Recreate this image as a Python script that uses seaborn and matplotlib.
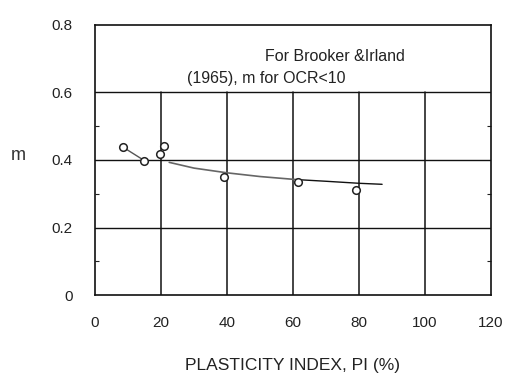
import numpy as np
import pandas as pd
import matplotlib
matplotlib.use("Agg")
import matplotlib.pyplot as plt
import seaborn as sns

# Points mesures (PI %, m)
pi_pts = [8.5, 15.0, 19.8, 21.0, 39.0, 61.5, 79.0]
m_pts = [0.438, 0.398, 0.418, 0.440, 0.349, 0.336, 0.311]

# Segment de gauche
seg_pi = [8.5, 15.0]
seg_m = [0.438, 0.398]

# Courbe de tendance (grise) puis droite (noire)
curve_pi = [22.5, 30, 40, 50, 61]
curve_m = [0.393, 0.376, 0.362, 0.351, 0.342]
line_pi = [61, 70, 80, 87]
line_m = [0.342, 0.337, 0.331, 0.328]

x_ticks = [0, 20, 40, 60, 80, 100, 120]
y_ticks = [0, 0.2, 0.4, 0.6, 0.8]
y_labels = ["0", "0.2", "0.4", "0.6", "0.8"]

sns.set_style("white")
plt.rcParams['font.family'] = ['Liberation Sans', 'DejaVu Sans']

fig = plt.figure(figsize=(5.06, 3.73), dpi=100)
ax = fig.add_axes([0.1877, 0.2091, 0.7827, 0.7239])

# Quadrillage: verticales seulement sous 0.6
for x in x_ticks[1:-1]:
    ax.plot([x, x], [0, 0.6], color="#111111", lw=1.1, zorder=1)
for y in y_ticks[1:-1]:
    ax.axhline(y, color="#111111", lw=1.0, zorder=1)

sns.lineplot(x=seg_pi, y=seg_m, ax=ax, color="#555555", lw=1.0, zorder=2)
sns.lineplot(x=curve_pi, y=curve_m, ax=ax, color="#666666", lw=1.2, zorder=2)
sns.lineplot(x=line_pi, y=line_m, ax=ax, color="#111111", lw=1.0, zorder=2)
sns.scatterplot(x=pi_pts, y=m_pts, ax=ax, marker="o", s=30,
                facecolor="white", edgecolor="#222222", linewidth=1.1, zorder=3)

ax.set_xlim(0, 120)
ax.set_ylim(0, 0.8)
ax.set_xticks(x_ticks)
ax.set_yticks(y_ticks)
ax.set_yticklabels(y_labels)
ax.set_yticks([0.1, 0.3, 0.5], minor=True)
ax.tick_params(axis="both", which="major", length=0, labelsize=11, colors="#222222")
ax.tick_params(axis="y", which="major", pad=16)
ax.tick_params(axis="x", which="major", pad=15)
ax.tick_params(axis="y", which="minor", direction="in", length=3, width=0.8,
               left=True, right=True, color="#222222")
for s in ax.spines.values():
    s.set_color("#111111")
    s.set_linewidth(1.2)

ax.text(51.5, 0.706, "For Brooker &Irland", ha="left", va="center", fontsize=11.5, color="#222222")
ax.text(28, 0.64, "(1965), m for OCR<10", ha="left", va="center", fontsize=11.5, color="#222222")

ax.set_xlabel("PLASTICITY INDEX, PI (%)", fontsize=12.5, color="#222222", labelpad=20)
fig.text(0.036, 1 - 155 / 373, "m", fontsize=13, ha="center", va="center", color="#333333")

fig.savefig("out.png", dpi=100)
